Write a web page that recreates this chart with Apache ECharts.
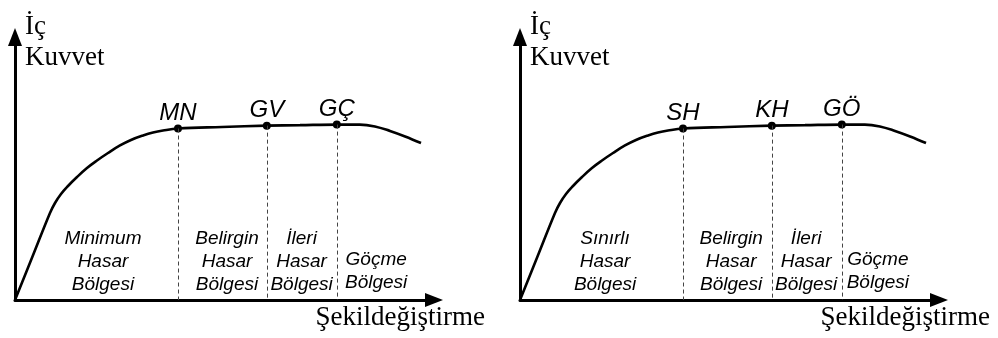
<!DOCTYPE html>
<html>
<head>
<meta charset="utf-8">
<title>İç Kuvvet - Şekildeğiştirme</title>
<script src="https://cdn.jsdelivr.net/npm/echarts@6/dist/echarts.min.js"></script>
<style>
  html, body { margin: 0; padding: 0; background: #fff; }
  #chart { width: 998px; height: 338px; }
</style>
</head>
<body>
<div id="chart"></div>
<script>
// capacity curve (deformation %, force %)
const curveX = [0, 4.2, 8.35, 9.55, 10.98, 12.65, 14.8, 17.18, 19.57, 22.2, 25.06, 27.68, 30.55, 32.94, 35.32, 38.9, 49.4, 60.1, 68.0, 76.8, 82.3, 85.9, 89.5, 93.1, 96.9]
const curveY = [0, 16.6, 33.08, 36.88, 40.3, 43.35, 46.77, 50.19, 53.04, 55.89, 58.75, 60.84, 62.55, 63.69, 64.45, 65.21, 65.8, 66.3, 66.5, 66.7, 66.7, 66.0, 64.3, 62.2, 59.7]

// performance points
const pointX = [38.9, 60.1, 76.8]
const pointY = [65.2, 66.3, 66.7]
const pointNamesLeft = ['MN', 'GV', 'GÇ']
const pointNamesRight = ['SH', 'KH', 'GÖ']

// damage zone labels (centre of text block)
const zoneXLeft = [21.0, 50.6, 68.4, 86.2]
const zoneXRight = [20.3, 50.4, 68.3, 85.4]
const zoneY = [14.4, 14.4, 14.4, 11.0]
const zoneNamesLeft = ['Minimum\nHasar\nBölgesi', 'Belirgin\nHasar\nBölgesi', 'İleri\nHasar\nBölgesi', 'Göçme\nBölgesi']
const zoneNamesRight = ['Sınırlı\nHasar\nBölgesi', 'Belirgin\nHasar\nBölgesi', 'İleri\nHasar\nBölgesi', 'Göçme\nBölgesi']

const yName = 'İç\nKuvvet'
const xName = 'Şekildeğiştirme'

const chart = echarts.init(document.getElementById('chart'))

const serif = "'Liberation Serif', 'Times New Roman', serif"
const sans = "'Liberation Sans', Arial, sans-serif"

function makeAxis(gridIndex, isX) {
  const axis = {
    type: 'value',
    gridIndex: gridIndex,
    min: 0,
    max: 100,
    axisLine: {
      show: true,
      symbol: ['none', 'triangle'],
      symbolSize: [14, 18],
      lineStyle: { color: '#000', width: 3 }
    },
    axisTick: { show: false },
    axisLabel: { show: false },
    splitLine: { show: false }
  }
  if (isX) {
    axis.name = xName
    axis.nameLocation = 'end'
    axis.nameGap = 51
    axis.nameTextStyle = {
      fontFamily: serif, fontSize: 27, lineHeight: 30, color: '#000',
      align: 'right', verticalAlign: 'top', padding: [3, 0, 0, 0]
    }
  } else {
    axis.name = yName
    axis.nameLocation = 'end'
    axis.nameGap = 26
    axis.nameTextStyle = {
      fontFamily: serif, fontSize: 27, lineHeight: 31, color: '#000',
      align: 'left', verticalAlign: 'top', padding: [0, 0, 0, 10]
    }
  }
  return axis
}

function panelSeries(idx, names, zoneX, zoneNames) {
  const pts = pointX.map((x, i) => [x, pointY[i], names[i]])
  return [
    {
      type: 'line',
      xAxisIndex: idx,
      yAxisIndex: idx,
      data: curveX.map((x, i) => [x, curveY[i]]),
      showSymbol: false,
      smooth: 0.4,
      lineStyle: { color: '#000', width: 2.6 },
      z: 3
    },
    {
      type: 'scatter',
      xAxisIndex: idx,
      yAxisIndex: idx,
      data: pts,
      symbolSize: 8,
      itemStyle: { color: '#000', opacity: 1 },
      label: {
        show: true,
        position: 'top',
        distance: -1,
        formatter: p => p.data[2],
        fontFamily: sans,
        fontStyle: 'italic',
        fontSize: 24,
        color: '#000',
        opacity: 1
      },
      markLine: {
        silent: true,
        symbol: 'none',
        label: { show: false },
        lineStyle: { color: '#444', width: 1, type: [4, 3], opacity: 1 },
        data: pointX.map((x, i) => [{ coord: [x, pointY[i]] }, { coord: [x, 0] }])
      },
      z: 4
    },
    {
      type: 'scatter',
      xAxisIndex: idx,
      yAxisIndex: idx,
      data: zoneX.map((x, i) => [x, zoneY[i], zoneNames[i]]),
      symbolSize: 1,
      itemStyle: { color: 'rgba(0,0,0,0)', opacity: 1 },
      label: {
        show: true,
        position: 'inside',
        formatter: p => p.data[2],
        fontFamily: sans,
        fontStyle: 'italic',
        fontSize: 19,
        lineHeight: 23,
        align: 'center',
        color: '#000',
        opacity: 1
      }
    }
  ]
}

chart.setOption({
  animation: false,
  backgroundColor: '#fff',
  grid: [
    { left: 15, top: 37, width: 419, height: 263 },
    { left: 520, top: 37, width: 419, height: 263 }
  ],
  xAxis: [makeAxis(0, true), makeAxis(1, true)],
  yAxis: [makeAxis(0, false), makeAxis(1, false)],
  series: [].concat(
    panelSeries(0, pointNamesLeft, zoneXLeft, zoneNamesLeft),
    panelSeries(1, pointNamesRight, zoneXRight, zoneNamesRight)
  )
})
</script>
</body>
</html>
